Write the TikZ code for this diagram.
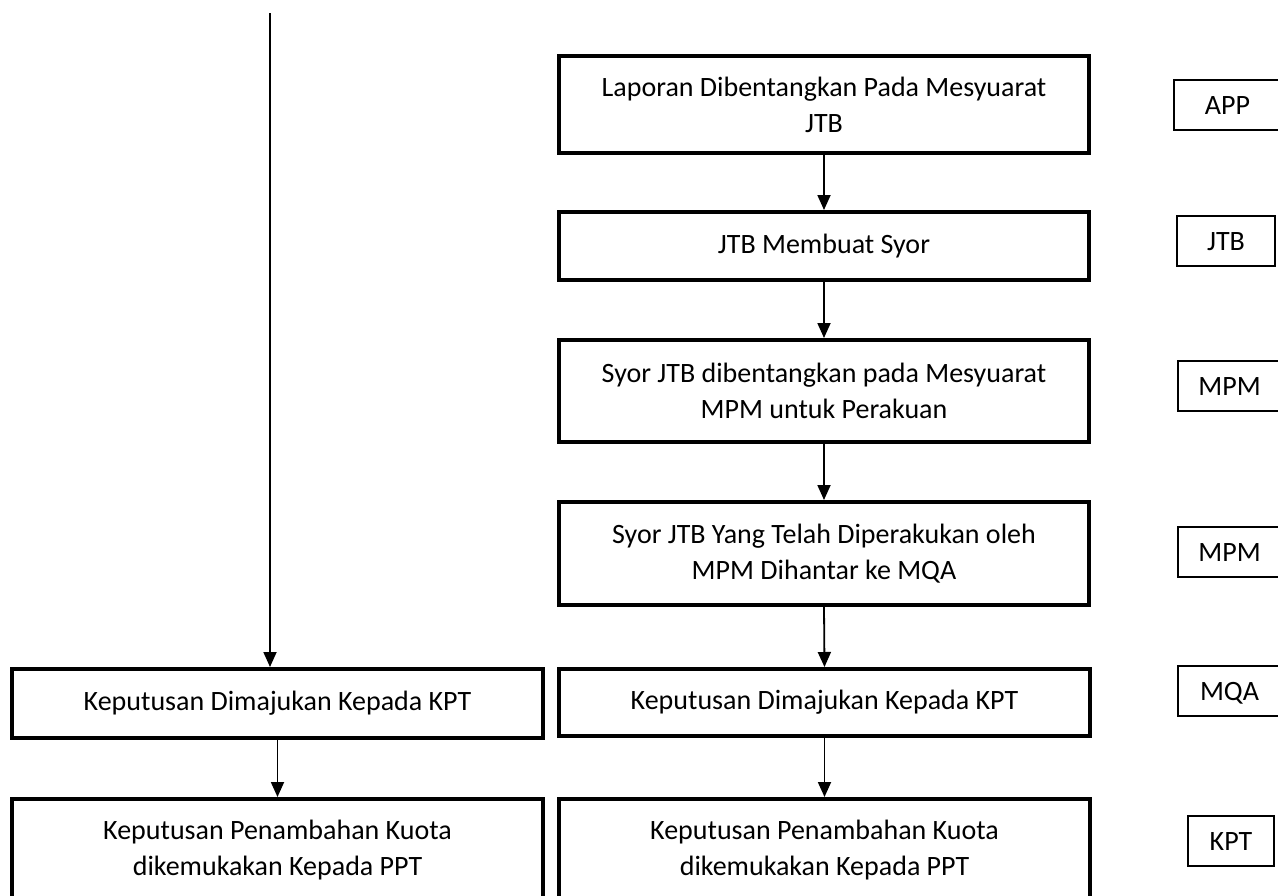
\documentclass[tikz,border=0pt]{standalone}
\usepackage{fontspec}
\setmainfont{Carlito}
\usetikzlibrary{arrows.meta}
\begin{document}
\begin{tikzpicture}[x=1pt,y=-1pt,
  flowbox/.style={draw,line width=4pt,align=center,font=\fontsize{28}{36}\selectfont,inner sep=0pt},
  tagbox/.style={draw,line width=2pt,font=\fontsize{28}{30}\selectfont,inner sep=0pt,minimum height=50pt,text height=18pt,text depth=0pt},
  link/.style={line width=1.8pt,-{Triangle[length=15pt,width=13pt]}}]
\useasboundingbox (0,0) rectangle (1278,895);
\clip (0,0) rectangle (1278,895);
% right column
\node[flowbox,minimum width=530pt,minimum height=97pt] (r1) at (824,104.5) {Laporan Dibentangkan Pada Mesyuarat\\JTB};
\node[flowbox,minimum width=530pt,minimum height=68pt] (r2) at (824,246) {JTB Membuat Syor};
\node[flowbox,minimum width=530pt,minimum height=102pt] (r3) at (824,391) {Syor JTB dibentangkan pada Mesyuarat\\MPM untuk Perakuan};
\node[flowbox,minimum width=530pt,minimum height=103pt] (r4) at (824,553.5) {Syor JTB Yang Telah Diperakukan oleh\\MPM Dihantar ke MQA};
\node[flowbox,minimum width=531pt,minimum height=67pt] (r5) at (824.5,702.5) {Keputusan Dimajukan Kepada KPT};
\node[flowbox,minimum width=531pt,minimum height=102pt] (r6) at (824.5,850) {Keputusan Penambahan Kuota\\dikemukakan Kepada PPT};
% left column
\node[flowbox,minimum width=531pt,minimum height=69pt] (l1) at (277.5,703.5) {Keputusan Dimajukan Kepada KPT};
\node[flowbox,minimum width=531pt,minimum height=102pt] (l2) at (277.5,850) {Keputusan Penambahan Kuota\\dikemukakan Kepada PPT};
% tags
\node[tagbox,minimum width=107pt] (tapp) at (1227.5,105) {APP};
\node[tagbox,minimum width=98pt] (tjtb) at (1226,241) {JTB};
\node[tagbox,minimum width=103pt] (tmpm1) at (1229.5,386) {MPM};
\node[tagbox,minimum width=103pt] (tmpm2) at (1229.5,552) {MPM};
\node[tagbox,minimum width=103pt] (tmqa) at (1229.5,691) {MQA};
\node[tagbox,minimum width=86pt] (tkpt) at (1231,841) {KPT};
% connectors
\draw[link] (r1.south) -- (r2.north);
\draw[link] (r2.south) -- (r3.north);
\draw[link] (r3.south) -- (r4.north);
\draw[link] (r4.south) -- (r5.north);
\draw[link] (r5.south) -- (r6.north);
\coordinate (start) at (270,13);
\draw[link] (start) -- (start |- l1.north);
\draw[link] (l1.south) -- (l2.north);
\end{tikzpicture}
\end{document}
